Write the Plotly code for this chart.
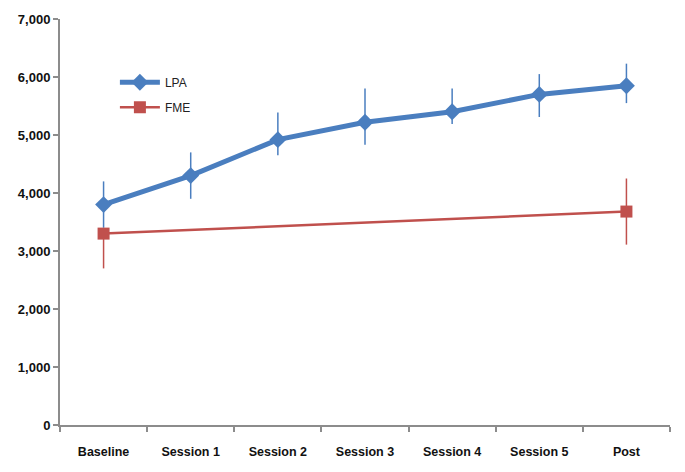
import plotly.graph_objects as go

categories = ["Baseline", "Session 1", "Session 2", "Session 3", "Session 4", "Session 5", "Post"]
lpa_values = [3800, 4300, 4920, 5220, 5400, 5700, 5850]
lpa_err_plus = [400, 400, 470, 580, 400, 350, 380]
lpa_err_minus = [400, 400, 270, 390, 210, 390, 300]
fme_values = [3300, None, None, None, None, None, 3680]
fme_err_plus = [0, 0, 0, 0, 0, 0, 570]
fme_err_minus = [600, 0, 0, 0, 0, 0, 570]
y_ticks = [0, 1000, 2000, 3000, 4000, 5000, 6000, 7000]
y_tick_labels = ["0", "1,000", "2,000", "3,000", "4,000", "5,000", "6,000", "7,000"]

blue = "#4a7ebf"
red = "#c0504d"

fig = go.Figure()
fig.add_trace(go.Scatter(
    x=categories, y=lpa_values, name="LPA", mode="lines+markers",
    legendgroup="lpa",
    line=dict(color=blue, width=5),
    marker=dict(symbol="diamond", size=13, color=blue),
    error_y=dict(type="data", symmetric=False, array=lpa_err_plus, arrayminus=lpa_err_minus,
                 color=blue, thickness=1.5, width=0),
))
fig.add_trace(go.Scatter(
    x=categories, y=fme_values, name="FME", mode="lines+markers",
    connectgaps=True, legendgroup="fme",
    line=dict(color=red, width=2.5),
    marker=dict(symbol="square", size=12, color=red),
    error_y=dict(type="data", symmetric=False, array=fme_err_plus, arrayminus=fme_err_minus,
                 color=red, thickness=1.5, width=0),
))

fig.update_layout(
    width=685, height=472,
    margin=dict(l=60, r=15, t=15, b=47),
    paper_bgcolor="white", plot_bgcolor="white",
    showlegend=True,
    legend=dict(x=0.09, y=0.88, xanchor="left", yanchor="top", traceorder="grouped",
                font=dict(family="Liberation Sans, Arial", size=12, color="#222"),
                bgcolor="rgba(0,0,0,0)", itemwidth=40, tracegroupgap=6),
    font=dict(family="Liberation Sans, Arial", color="#111"),
)
fig.update_xaxes(
    type="category", range=[-0.5, 6.5],
    showline=True, linecolor="#8c8c8c", linewidth=2,
    ticks="outside", tickson="boundaries", ticklen=5, tickcolor="#8c8c8c", tickwidth=2,
    showgrid=False, zeroline=False, ticklabelstandoff=14,
    tickfont=dict(family="Liberation Sans, Arial", size=12.5, color="#111", weight="bold"),
)
fig.update_yaxes(
    range=[0, 7000], tickvals=y_ticks, ticktext=y_tick_labels,
    showline=True, linecolor="#8c8c8c", linewidth=2,
    ticks="outside", ticklen=5, tickcolor="#8c8c8c", tickwidth=2,
    showgrid=False, zeroline=False, ticklabeloverflow="allow",
    tickfont=dict(family="Liberation Sans, Arial", size=13, color="#111", weight="bold"),
)

fig.write_html("out.html", config={"displayModeBar": False},
               post_script="document.body.style.margin='0';")
